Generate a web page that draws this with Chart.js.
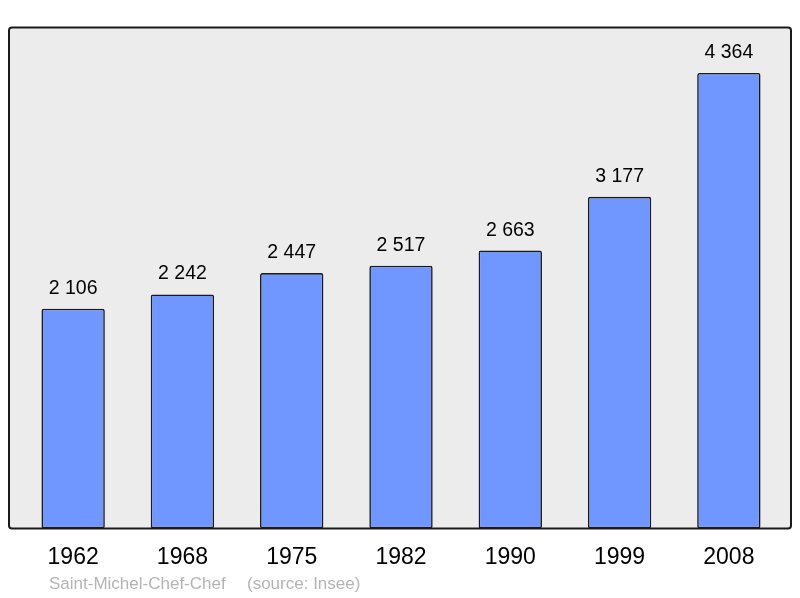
<!DOCTYPE html>
<html>
<head>
<meta charset="utf-8">
<script src="https://cdn.jsdelivr.net/npm/chart.js@4"></script>
<style>
html,body{margin:0;padding:0;background:#fff;}
#wrap{width:800px;height:598px;position:relative;}
</style>
</head>
<body>
<div id="wrap"><canvas id="c" width="800" height="598"></canvas></div>
<script>
const years = ["1962","1968","1975","1982","1990","1999","2008"];
const population = [2106, 2242, 2447, 2517, 2663, 3177, 4364];
const commune = "Saint-Michel-Chef-Chef";
const source = "(source: Insee)";

const FONT = "'Liberation Sans', Arial, sans-serif";
function fmt(v){ return String(v).replace(/\B(?=(\d{3})+(?!\d))/g, ' '); }

const frame = {
  id: 'frame',
  beforeDatasetsDraw(chart){
    const ctx = chart.ctx, a = chart.chartArea;
    ctx.save();
    ctx.beginPath();
    ctx.roundRect(9, a.top, 782, a.bottom - a.top, 3);
    ctx.fillStyle = '#ececec';
    ctx.fill();
    ctx.restore();
  },
  afterDatasetsDraw(chart){
    const ctx = chart.ctx, a = chart.chartArea;
    ctx.save();
    ctx.beginPath();
    ctx.roundRect(9, a.top, 782, a.bottom - a.top, 3);
    ctx.lineWidth = 2;
    ctx.strokeStyle = '#1a1a1a';
    ctx.stroke();
    // value labels
    ctx.fillStyle = '#000';
    ctx.font = "19.5px " + FONT;
    ctx.textAlign = 'center';
    ctx.textBaseline = 'alphabetic';
    const meta = chart.getDatasetMeta(0);
    meta.data.forEach((bar, i) => {
      ctx.fillText(fmt(chart.data.datasets[0].data[i]), bar.x, bar.y - 15);
    });
    // footer
    ctx.fillStyle = '#b4b4b4';
    ctx.font = "17px " + FONT;
    ctx.textAlign = 'left';
    ctx.fillText(commune, 49, 589);
    ctx.fillText(source, 247, 589);
    ctx.restore();
  }
};

new Chart(document.getElementById('c'), {
  type: 'bar',
  data: {
    labels: years,
    datasets: [{
      data: population,
      backgroundColor: '#7096ff',
      borderColor: '#1a1a1a',
      borderWidth: 1.6,
      borderRadius: 2,
      borderSkipped: false,
      barPercentage: 0.58,
      categoryPercentage: 1.0
    }]
  },
  options: {
    responsive: false,
    animation: false,
    devicePixelRatio: 1,
    layout: { padding: { left: 18.5, right: 16.5, top: 27.5, bottom: 12 } },
    plugins: { legend: { display: false }, tooltip: { enabled: false } },
    scales: {
      x: {
        offset: true,
        grid: { display: false, drawTicks: false },
        border: { display: false },
        ticks: { color: '#000', font: { family: FONT, size: 23 }, padding: 15, maxRotation: 0 }
      },
      y: {
        display: false,
        min: 0,
        max: 4800
      }
    }
  },
  plugins: [frame]
});
</script>
</body>
</html>
